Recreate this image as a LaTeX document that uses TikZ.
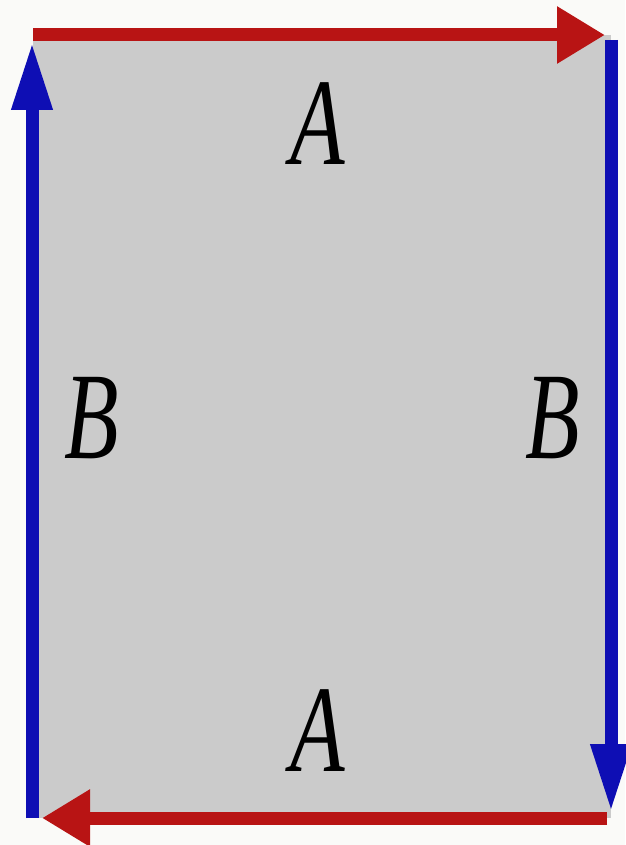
\documentclass[tikz,border=0pt]{standalone}
\usepackage{fontspec}
\setmainfont{Liberation Serif}
\usetikzlibrary{arrows.meta}
\definecolor{bgc}{HTML}{FAFAF8}
\definecolor{fillgray}{HTML}{CBCBCB}
\definecolor{redarr}{HTML}{B81414}
\definecolor{bluearr}{HTML}{0E0EB4}
\tikzset{
  redline/.style={draw=redarr, line width=13pt, -{Triangle[length=48pt,width=54pt]}},
  blueline/.style={draw=bluearr, line width=13pt, -{Triangle[length=68pt,width=38pt]}},
  lab/.style={font=\fontsize{124}{124}\selectfont\itshape, xscale=0.72, inner sep=0pt, anchor=center}
}
\begin{document}
\begin{tikzpicture}[x=1pt,y=-1pt]
\useasboundingbox (0,0) rectangle (625,845);
\fill[bgc] (0,0) rectangle (625,845);
\coordinate (tl) at (33,35);
\coordinate (br) at (611,818);
\fill[fillgray] (tl) rectangle (br);
\coordinate (topstart) at (33,35);
\coordinate (topend) at (605,35);
\coordinate (rstart) at (611,40);
\coordinate (rend) at (611,812);
\coordinate (bstart) at (607,818);
\coordinate (bend) at (42,818);
\coordinate (lstart) at (32,818);
\coordinate (lend) at (32,42);
\draw[blueline] (rstart) -- (rend);
\draw[blueline] (lstart) -- (lend);
\draw[redline] (topstart) -- (topend);
\draw[redline] (bstart) -- (bend);
\node[lab] (a1) at (318,124) {A};
\node[lab] (b1) at (92,418) {B};
\node[lab] (b2) at (553,418) {B};
\node[lab] (a2) at (318,731) {A};
\end{tikzpicture}
\end{document}
